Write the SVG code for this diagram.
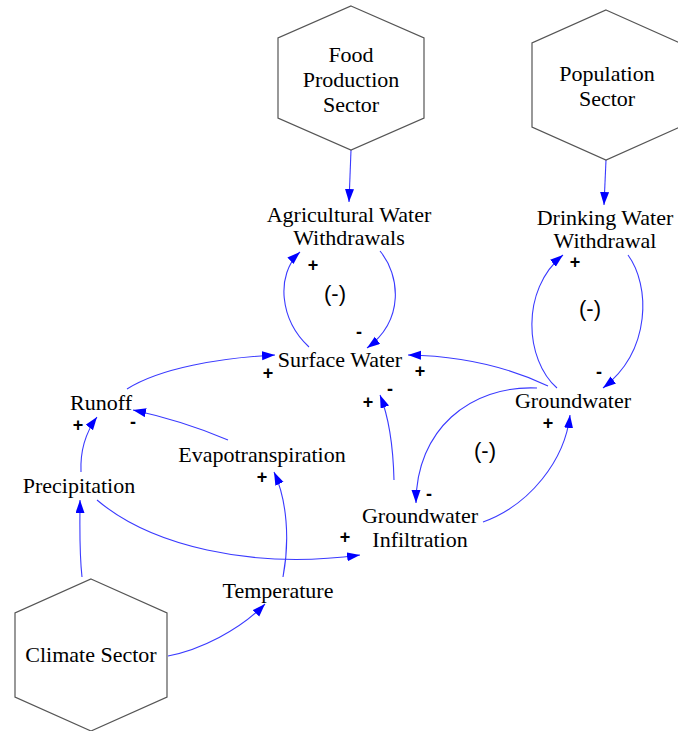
<svg xmlns="http://www.w3.org/2000/svg" width="678" height="731" viewBox="0 0 678 731">
<style>
.hex{fill:#ffffff;stroke:#555555;stroke-width:1.2}
.lbl{font-family:"Liberation Serif","Times New Roman",serif;font-size:22px;fill:#000;text-anchor:middle}
.pol{font-family:"Liberation Sans",Arial,sans-serif;font-size:18px;font-weight:bold;fill:#000;text-anchor:middle}
.loop{font-family:"Liberation Sans",Arial,sans-serif;font-size:22px;fill:#000;text-anchor:middle}
.cn{fill:none;stroke:#3a3aff;stroke-width:1.1;marker-end:url(#ah)}
</style>
<defs>
<marker id="ah" markerUnits="userSpaceOnUse" markerWidth="14" markerHeight="10" refX="13" refY="4.5" orient="auto">
<path d="M0,0 L13,4.5 L0,9 z" fill="#0000ff"/>
</marker>
</defs>
<rect width="678" height="731" fill="#ffffff"/>

<g id="connectors">
<path class="cn" d="M351,150 L349,202"/>
<path class="cn" d="M606,160 L604,205"/>
<path class="cn" d="M309,347 C280,320 275,275 300,252"/>
<path class="cn" d="M380,251 C400,275 405,320 367,348"/>
<path class="cn" d="M557,388 C525,360 520,290 563,255"/>
<path class="cn" d="M628,255 C650,285 652,350 603,388"/>
<path class="cn" d="M548,386 C510,368 465,356 408,355"/>
<path class="cn" d="M537,388 C470,385 416,430 416,503"/>
<path class="cn" d="M483,522 C530,505 565,460 570,415"/>
<path class="cn" d="M394,480 C393,440 388,415 380,395"/>
<path class="cn" d="M127,389 C160,368 220,358 275,355"/>
<path class="cn" d="M228,440 C200,428 170,418 133,410"/>
<path class="cn" d="M81,472 C80,450 86,432 97,417"/>
<path class="cn" d="M82,577 C79,550 80,525 80,500"/>
<path class="cn" d="M97,500 C150,545 250,570 360,555"/>
<path class="cn" d="M283,577 C290,540 287,500 274,472"/>
<path class="cn" d="M168,656 C200,650 240,630 265,604"/>
</g>

<g id="polarities">
<text class="pol" x="313" y="271">+</text>
<text class="pol" x="359" y="338">-</text>
<text class="pol" x="575" y="268">+</text>
<text class="pol" x="599" y="378">-</text>
<text class="pol" x="420" y="377">+</text>
<text class="pol" x="429" y="500">-</text>
<text class="pol" x="548" y="429">+</text>
<text class="pol" x="368" y="408">+</text>
<text class="pol" x="390" y="395">-</text>
<text class="pol" x="268" y="379">+</text>
<text class="pol" x="133" y="428">-</text>
<text class="pol" x="78" y="431">+</text>
<text class="pol" x="345" y="543">+</text>
<text class="pol" x="262" y="483">+</text>
<text class="loop" x="335" y="301">(-)</text>
<text class="loop" x="590" y="316">(-)</text>
<text class="loop" x="485" y="458">(-)</text>
</g>

<g id="food-production-sector">
<polygon class="hex" points="351,6 424,38 424,118 351,150 278,118 278,38"/>
<text class="lbl" x="351" y="62">Food</text>
<text class="lbl" x="351" y="87">Production</text>
<text class="lbl" x="351" y="112">Sector</text>
</g>
<g id="population-sector">
<polygon class="hex" points="606,10 680,43 680,127 606,160 532,127 532,43"/>
<text class="lbl" x="607" y="81">Population</text>
<text class="lbl" x="607" y="106">Sector</text>
</g>
<g id="climate-sector">
<polygon class="hex" points="91,579 167,613 167,697 91,731 15,697 15,613"/>
<text class="lbl" x="91" y="662">Climate Sector</text>
</g>
<g id="agricultural-water-withdrawals">
<text class="lbl" x="349" y="222">Agricultural Water</text>
<text class="lbl" x="349" y="245">Withdrawals</text>
</g>
<g id="drinking-water-withdrawal">
<text class="lbl" x="605" y="225">Drinking Water</text>
<text class="lbl" x="605" y="248">Withdrawal</text>
</g>
<g id="surface-water">
<text class="lbl" x="340" y="367">Surface Water</text>
</g>
<g id="groundwater">
<text class="lbl" x="573" y="408">Groundwater</text>
</g>
<g id="groundwater-infiltration">
<text class="lbl" x="420" y="523">Groundwater</text>
<text class="lbl" x="420" y="547">Infiltration</text>
</g>
<g id="runoff">
<text class="lbl" x="101" y="410">Runoff</text>
</g>
<g id="evapotranspiration">
<text class="lbl" x="262" y="462">Evapotranspiration</text>
</g>
<g id="precipitation">
<text class="lbl" x="79" y="493">Precipitation</text>
</g>
<g id="temperature">
<text class="lbl" x="278" y="598">Temperature</text>
</g>
</svg>
